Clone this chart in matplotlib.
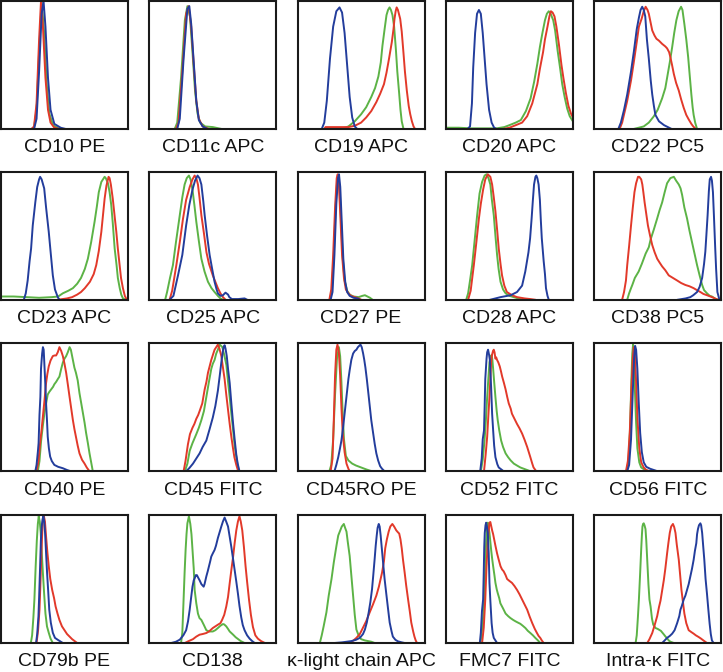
import matplotlib
matplotlib.use("Agg")
import matplotlib.pyplot as plt

plt.rcParams['font.family'] = ['Liberation Sans', 'DejaVu Sans']

# ---- panel titles ----
labels = ["CD10 PE", "CD11c APC", "CD19 APC", "CD20 APC", "CD22 PC5",
          "CD23 APC", "CD25 APC", "CD27 PE", "CD28 APC", "CD38 PC5",
          "CD40 PE", "CD45 FITC", "CD45RO PE", "CD52 FITC", "CD56 FITC",
          "CD79b PE", "CD138", "κ-light chain APC", "FMC7 FITC", "Intra-κ FITC"]

# ---- curves: (fluorescence position %, relative count %) ----
cd10_green = [(24,0),(26,1),(28,15),(30,60),(32,99),(34,75),(36,35),(38,12),(41,3),(46,0)]
cd10_red = [(24,0),(26,2),(28,20),(30,70),(31.5,100),(33,80),(35,40),(37,15),(39,5),(42,1),(46,0)]
cd10_blue = [(26,0),(28,8),(30,45),(32,90),(33.5,100),(35,80),(37,40),(39,15),(42,4),(47,1),(51,0)]

cd11c_green = [(20,0),(22,5),(25,40),(28,85),(30,96),(32,88),(34,60),(36,30),(38,12),(40,5),(44,2),(50,1.5),(57,0)]
cd11c_red = [(21,0),(23,5),(26,45),(29,90),(31,96),(33,80),(35,50),(37,22),(39,8),(42,2),(47,0)]
cd11c_blue = [(22,0),(24,8),(27,55),(30,94),(31.5,96),(33,82),(35,52),(37,22),(39,7),(42,2),(46,0)]

cd19_green = [(35,0),(37,1),(40,2),(45,6),(50,11.5),(54,17),(58,25),(61,32),(63.6,41),(65.5,52),(66.8,65),(68.5,78),(70,89),(71.2,93),(72.4,95),(73.5,93),(74.7,89),(76,80),(77.4,62),(78.5,45),(80,27.5),(81,15),(82,6),(83.4,0)]
cd19_red = [(21,0),(22,1.5),(30,1.5),(40,1.5),(45,2.5),(50,5),(54,9),(58,14),(62,21),(65,27.5),(68,35),(70,44),(72,55),(74.2,68),(75.5,78),(76.3,86),(77.2,92),(78,95),(79,93),(80.8,86),(82,76),(83.4,59),(84.5,45),(86,30),(87.5,18),(88.7,11.5),(90,6),(91.3,2),(92.5,0)]
cd19_blue = [(19,0),(21,5),(23,22),(25.5,55),(28,80),(30.5,92),(33,95),(35,91),(37,75),(39,50),(41,25),(43,9),(45,2),(47,0)]

cd20_green = [(0,1),(10,1),(20,0.5),(40,0.5),(46,1.5),(50,3),(55,5),(59,7),(63,14),(66.7,24),(69.5,37),(72,51),(74,64),(76,75),(78,85),(79.5,90),(81,92),(82.5,90),(84.5,85),(86,77),(88,61),(90,47),(91.6,35),(93.5,25),(95.5,16),(97.5,10),(100,6)]
cd20_red = [(45,0),(50,1),(55,3),(60,5),(64,10),(68,20),(72,35),(74,47),(76.5,60),(78,70),(80,80),(81.5,88),(82.7,92),(84,91),(85.5,88),(87,80),(89,66),(91,50),(92.5,40),(94.5,28),(96.5,18),(98.5,12),(100,9)]
cd20_blue = [(17,0),(19,2),(20.5,20),(21.5,48),(23,75),(24.5,90),(26,93),(27.5,90),(29,75),(30.5,55),(32,35),(34,15),(36,5),(38,1),(40,0)]

cd22_green = [(31,0),(35,1),(39,2),(43,5),(47,10),(50,15),(53.5,24),(56,32),(57.4,40),(59.5,52),(61.4,64),(63,75),(64.7,85),(66.5,92),(68.4,95.5),(69.5,93),(71,82),(72.5,70),(74,56),(75.2,42),(76.5,27),(77.5,17),(78.3,11),(79.5,5),(81,0)]
cd22_red = [(20,0),(22,5),(26,22),(29,38),(31.3,53),(33.5,68),(35.2,80),(37.3,86),(39,92),(40.5,95.5),(42,93),(43,90),(45.7,77),(47.5,73),(49,70.5),(51,69),(53.5,66.5),(56,64.5),(57.4,63),(59,60),(60,56),(61.3,50),(62.7,43),(64.5,36),(66.6,30),(68.5,23),(70.5,16.5),(72.5,11),(74.4,7.5),(76.5,4),(78,2),(80,0)]
cd22_blue = [(19,0),(21,5),(23.5,15),(26,27),(29,45),(31.3,61),(33.5,78),(35.2,87),(36.5,93),(37.8,95.5),(39,93),(40.2,88),(41.5,70),(43,55),(44.5,38),(45.7,27),(47,18),(48.2,11),(51,6),(55,3),(58,1.5),(61,0)]

cd23_green = [(0,2.5),(10,2.5),(20,2),(30,1.5),(40,2),(45,2.5),(48.7,5),(53,7),(56.6,9),(60,12.5),(63,17),(66,24),(68.4,32),(71,45),(73.7,61),(75.5,73),(77,84),(79,92),(81.6,96),(82.5,95),(84.2,91),(85.5,84),(86.8,74),(88,60),(89.5,40),(91,27),(92,17),(93.5,9),(94.7,4),(96,1),(98,0)]
cd23_red = [(45,0),(52,1),(56,2),(60,4),(63,6),(66,9),(70,14),(73,20),(75,27),(77,38),(79,53),(80.5,68),(81.6,79),(83,89),(84.7,96),(85.5,95),(86.5,90),(88,79),(89.5,65),(90.8,53),(92,40),(93.4,27),(94.5,17),(96,9),(97.5,3),(99,0)]
cd23_blue = [(18,0),(19.5,5),(21,15),(22.5,30),(23.7,40),(25,58),(27,76),(28.5,88),(30,94),(30.8,96),(32,94),(34,87),(35.5,72),(37.6,53),(39,38),(40.8,19),(42.5,8),(44.7,2),(46,0)]

cd25_green = [(12.5,0),(14,6),(16.3,17),(18.6,27),(21,45),(24,66),(26,80),(27.8,90),(29.5,95),(31.2,97),(32.5,94),(34,86),(35.5,74),(37,61),(39,46),(41,32),(43.5,22),(46.2,14),(49,9),(51.4,6),(54,3),(56,1),(58,0)]
cd25_red = [(16,0),(18,7),(21.3,27),(24,45),(26.5,63),(29,78),(31.8,88),(34,94),(35.7,97),(37,95),(38.3,90),(39.5,80),(41,66),(43,52),(45,37),(47,28),(50,19),(52,14),(54,9),(56,5),(58,2),(60,0)]
cd25_blue = [(16,0),(19,3),(22.6,19),(26,35),(29,58),(31.5,74),(34,86),(36,93),(38,97),(39.5,95),(41,90),(42.5,77),(43.6,66),(45.5,50),(47.5,35),(49.5,24),(51.4,14),(53,8),(54,5),(56,3),(58,3.5),(60,5.5),(62,4),(63,2),(65,0.5),(70,0.5),(75,1),(77,0)]

cd27_green = [(25.5,0),(27,7),(28.5,35),(30,74),(31.3,95),(32.1,97),(33.1,87),(34.3,60),(35.5,33),(37,15),(39,7),(41,4),(44,2.5),(48,2),(51,3),(53,3.5),(55,2.5),(57,1.5),(59,0)]
cd27_red = [(25,0),(26.5,8),(28,35),(29.5,72),(30.8,95),(31.6,98),(32.6,88),(33.8,62),(35,35),(36.5,17),(38,8),(40,5),(42,3),(45,2),(48,1),(50,0)]
cd27_blue = [(26,0),(27.5,6),(29,35),(30.5,75),(31.8,95),(32.6,98),(33.6,88),(34.8,60),(36,32),(37.5,14),(39,6),(41,3),(44,1.5),(47,1),(49,0)]

cd28_green = [(16,0),(17.5,5),(19,15),(20.7,27),(22.5,45),(24.6,66),(26.5,83),(28.5,92),(30.5,97),(32,98),(33.5,95),(35,90),(36.2,78),(37.7,66),(39,50),(40.3,35),(41.5,24),(43,14),(45,8),(47,5),(50,3),(53.4,2),(57,1),(60,0)]
cd28_red = [(17.5,0),(19.5,7),(22,27),(24,45),(26,63.5),(27.5,75),(29.3,86),(31,94),(33,98),(35,96),(36.4,90),(37.7,80),(39,69),(40.3,55),(41.6,40),(43,28),(44.2,19),(46,11),(48,6),(52,3.5),(56,2),(62,1),(66.5,0.5),(70,0)]
cd28_blue = [(35,0),(43,2),(51,3.5),(56,6),(60,11),(62.5,22),(65,37),(66.3,48),(67.5,63.5),(68.5,78),(69.4,90),(70.5,96),(71.2,97),(72,95),(73,90),(74,78),(74.7,63),(75.5,48),(77,30),(78,20),(78.8,9),(80,3),(81,0)]

cd38_green = [(26,0),(27.5,5),(29,9),(30,11.5),(32,17),(35,22),(37.5,28),(40.5,36),(43,41),(44.4,47),(47,55),(49.6,63.5),(51.5,70),(53.5,76),(55.5,84),(57.4,91),(60,95),(62.7,96),(64.5,93),(66.6,90),(68,87),(69.2,82),(71,72),(73.1,63.5),(75,54),(77,45),(79,36),(81,27),(83,19),(85,11.5),(86.5,7.5),(88.8,5),(91,3),(92.7,2.5),(95,1),(97,0)]
cd38_red = [(22,0),(23.5,6),(25,15),(26,27),(27.5,42),(29,58),(30.4,72),(31.7,84),(33,91),(34.5,96),(35.5,96),(37,94),(37.9,90),(38.7,84),(39.7,76),(41,67),(42.3,58),(44,50),(45.7,42.7),(47.6,37),(49.6,32),(51.5,29),(53.5,26),(56,23),(58.7,19),(62,17),(65.3,15),(68.5,13),(71.8,11.5),(75,10.5),(78.3,9),(80,8),(83.6,6),(86,4.5),(88.8,3.5),(91.5,2.5),(94,1.5),(96,0.5),(98,0)]
cd38_blue = [(66,0),(72,1),(75.7,2),(78,3.5),(81,6),(83,10),(85,17),(86.5,28),(87.5,37.5),(88.3,50),(89.3,66),(90.3,85),(91,94),(92,96),(92.7,93),(93.5,84),(94.3,65),(95.3,40),(96,24),(97,6),(98.6,0)]

cd40_green = [(29,0),(30.3,8),(31.6,24),(33,36),(34.2,45.5),(35.5,53),(36.8,60),(38,62),(39.5,64),(41,66),(42,68),(43.5,70),(44.7,72),(46,74),(47.4,80),(48.7,85),(50,88),(51.3,90),(52.6,93),(54,97),(55,95),(56.6,87),(57.8,81),(59,77),(60.4,71),(61.8,61),(63.2,53),(64.5,45.5),(65.8,38),(67,30),(68.4,22),(69.7,14),(71,7),(72.3,0)]
cd40_red = [(28,0),(29.5,8),(30.8,22),(32,33),(33,43),(34.2,55),(35.5,69),(36.5,76),(37.6,82),(39,86.5),(40.8,90),(42.1,90.5),(43.4,90.5),(44.7,93),(46,97),(47.4,94),(48.7,90),(50,84),(51.3,77),(52.6,68),(54,58),(55.3,49),(56.6,40),(57.8,33),(59,27),(60.4,20),(61.8,14),(63.8,9),(65.8,6),(67.5,3),(69.7,0)]
cd40_blue = [(27,0),(28,5),(29,15),(29.6,22),(30.3,44),(31,58),(31.5,80),(32,87),(32.4,92),(33,97),(33.6,95),(34,87),(34.8,70),(35.5,53),(36.2,40),(36.8,27),(37.7,18),(38.7,11.5),(40,8),(42,5),(45,3.5),(48.7,2.4),(52,1),(55,0)]

cd45_green = [(28,0),(30,6),(31.8,16),(34,22),(37,29),(39,34),(41,40),(43,47),(44.9,58),(46.8,69),(48.8,80),(50,84),(51.4,87),(52.7,92),(54,95),(55.4,99),(56.5,98),(57.5,97),(59,91),(60.7,83),(62,70),(63.3,58),(64.6,45),(66,32),(67.2,20),(68.5,11.5),(69.5,5),(70.6,0)]
cd45_red = [(27,0),(28.5,8),(30.4,21),(32,29),(34,34),(35.5,37),(37,41),(38.5,44),(39.6,47),(41.7,53),(43.6,64),(45,70),(46.2,77),(48.8,87),(51.4,95),(52.7,97),(54,99),(55.2,96),(56.7,90),(58,81),(59.3,72),(60.6,60),(62,48),(63.3,37),(64.6,27),(65.9,18),(67,11),(68.5,5),(70,0)]
cd45_blue = [(29,0),(31.5,2.5),(34.4,6),(37,10),(39.6,14),(42,19),(44.9,24),(47.5,33),(50,42),(52,51),(54,63),(55.5,75),(56.7,85),(57.8,93),(58.5,97),(59.3,98.5),(60,96),(61,90),(62,80),(63.3,69),(64.6,53),(66,37),(67.2,25),(68.5,13),(69.6,6),(71,0)]

cd45ro_green = [(25,0),(26.5,5),(28,25),(29.5,60),(31,88),(32.5,97),(33.5,90),(34.5,70),(35.5,45),(36.5,25),(38,12),(40,8.5),(43,6),(46,4.5),(50,3),(54,1.5),(57,0.5),(59,0)]
cd45ro_red = [(26,0),(27.5,10),(28.5,40),(29.5,75),(30.5,95),(31.4,99),(32.5,93),(33.5,75),(34.5,50),(35.5,30),(37,15),(38.5,6),(40,2),(41,0)]
cd45ro_blue = [(29,0),(30.5,5),(32,11),(33.2,17),(34.5,24),(35.8,34),(37,45),(38,54),(39,63),(40,72),(41,79),(42.3,87),(43.7,92),(45,94),(46.3,95),(47.5,97),(49.5,99),(50.5,97),(51.6,92),(52.5,87),(53.4,81),(54.5,72),(55.5,63),(56.7,52),(58,40),(59.3,31),(60.7,21.5),(62,14),(63.4,8.5),(65,4),(66.5,2),(68.5,0)]

cd52_green = [(27.5,0),(29,9),(30.4,24),(31.5,40),(32.5,58),(33.4,72),(34.3,85),(35.2,89),(36,91),(36.6,87),(37.2,80),(38,70),(39,58),(40,47),(40.8,40),(42,32),(43.5,24),(45,19),(47,14),(49,11),(51,8.5),(53.5,6),(56,4.5),(58.6,3),(61.3,2),(64,1),(66.5,0)]
cd52_red = [(30,0),(31.3,13),(32.5,27),(33.4,43),(34.3,58),(35,72),(35.6,85),(36.1,90),(36.6,92),(37.1,94),(37.7,95),(38.3,93),(39,88),(39.6,89),(40.3,87),(41.3,85),(42.4,82),(43.4,78),(44.3,74),(45.7,69),(47,64),(48.3,58),(49.5,53),(51,49),(52,45),(54,41),(56,37),(58,33.5),(60,29.5),(62,24.5),(64,19),(66.5,11),(68,6),(69,3),(71.2,0)]
cd52_blue = [(27,0),(28.2,10),(29,25),(30,32),(30.5,50),(31,72),(32,88),(32.5,93),(33.2,95),(34,91),(34.6,87),(35.6,66),(36.4,45),(37.2,32),(38,20),(39,11),(40.5,5.5),(41.6,3),(45.5,0)]

cd56_green = [(25.5,0),(27,8),(28.3,35),(29.3,72),(30,92),(30.6,99),(31.3,90),(32,65),(33,38),(34,18),(35.5,7),(37,3),(40,1),(43,0)]
cd56_red = [(25,0),(26.5,8),(28,30),(29.3,65),(30.5,90),(31.2,97),(32,92),(33,70),(34,42),(35.5,18),(37,7),(39,3),(41,1),(44,0)]
cd56_blue = [(26,0),(27.5,5),(29,25),(30.3,60),(31.4,88),(32.2,98),(33,95),(34,80),(35,55),(36.2,30),(37.5,15),(39,7),(41,3.5),(44,2),(47,1),(50,0)]

cd79b_green = [(23.5,0),(24.5,6),(25.5,20),(26.3,34),(27.3,60),(28.2,80),(29,93),(29.7,99),(30.5,95),(31.3,86),(32,72),(33,54.5),(34,38),(35,23),(36.2,13),(37.6,8),(39,3.5),(40.8,0)]
cd79b_red = [(28,0),(29.2,10),(30.3,26),(31,45),(31.8,70),(32.5,87),(33,97),(33.8,99),(34.6,95),(35.5,83),(36.5,71),(37.6,60),(38.8,50),(40.3,41.5),(41.8,35),(43,28.5),(44.5,23),(46,18),(48,13),(50,10),(52,7),(54,5),(56,3),(58,1.5),(60,0)]
cd79b_blue = [(27.6,0),(28.5,7),(29.5,21),(30,35),(30.8,60),(31.4,80),(32,91),(32.8,97),(33.4,99),(34,95),(34.7,86),(35.5,70),(36.3,54.5),(37.2,40),(38,26),(39.2,16),(40.8,8),(42.5,4),(44.7,2.5),(48.7,0)]

cd138_green = [(25,0),(26,8),(27,34),(27.8,55),(28.6,73),(29.3,85),(30,93.5),(31.2,99),(32.3,93),(33.2,85),(34,73),(35,58),(35.7,41.5),(37,31),(38.3,23),(39.5,19.5),(41,18),(43,14),(44.9,10),(47,9),(50,9),(52,10),(54,11.7),(56,13.5),(58,14.8),(59,14.5),(60.6,13),(62,11),(63.3,9),(66,6.5),(68,4.5),(70,3),(72,1.5),(75,0)]
cd138_red = [(28,0),(31,1.5),(34.4,3),(37,5),(39.6,6.5),(42,7),(44.9,7.8),(47,9),(50,11.7),(52,13),(54,14.3),(56,15.5),(57.3,18),(59,22),(60.6,28.5),(62,36),(63.3,46.7),(64.6,57),(66,67.5),(67.2,78),(68.5,88),(69.8,95),(71,99),(72,95),(73.2,88),(74.5,75),(75.8,60),(77,48),(78.5,34),(80,22),(81.6,12.5),(83.5,6),(85.5,3.4),(88,1.5),(91,0)]
cd138_blue = [(17.3,0),(21,1),(24,2.6),(26.8,6),(29,10),(30.5,17),(31.8,26),(33,36),(34,44),(35,49),(35.7,50.5),(36.6,53),(37.5,53),(38.5,51),(39.6,49),(41,46),(42.8,44),(43.5,46),(44.9,52),(46,56),(47,60),(48,64),(48.8,67.5),(50,70),(51.4,72.7),(52.5,76),(54,82),(55.5,87),(56.7,91),(58,95),(59.3,98),(60.5,95),(62,91),(63.3,83),(64.6,75),(65.9,66),(67.2,57),(68.5,48),(69.8,38.5),(71,29),(72.4,20),(73.6,14),(75,10),(77,6),(79,3.4),(81,1.5),(83,0)]

kappa_green = [(17.5,0),(19,6),(20.5,13),(22.7,24),(24.5,37),(26.7,50),(28.5,63),(30.6,76),(32,84),(33.2,87),(34.8,91),(36.4,93),(37.4,90),(38.5,87),(39.5,79),(41,68),(42.3,53),(43.7,37),(45,22),(46.3,10.5),(48,6),(50,3),(53,2),(55.5,1.5),(58,1),(60.7,0)]
kappa_red = [(41,0),(44,2),(46.3,4),(49,7),(51.5,12),(54,17),(56.8,24),(59.3,30),(62,37),(64,44),(66.5,55),(68,64),(69,74),(70.3,81),(71.7,87),(73,91),(74.6,93),(76,91),(77.7,88),(79,86.5),(80,85.5),(81,81),(82,74),(83,65),(84.3,55),(85.5,45),(87,34),(88.3,25),(89.5,16),(91,9),(92,5),(93,2),(94,0)]
kappa_blue = [(29,0),(35,0.5),(42.4,1.5),(46,2.5),(49,4),(51.5,7),(53,10.5),(54.5,16),(56,24),(57.3,32),(58.6,42),(59.5,52),(60.7,66),(61.5,76),(62.3,84),(63,90),(63.9,93),(64.6,91),(65.4,84),(66.3,74),(67.3,63),(68.5,50),(70,37),(71.3,26),(72.5,16),(74,9),(75,5),(77,2.5),(79,1.3),(82,0.5),(84.3,0)]

fmc7_green = [(27.2,0),(28.3,9),(29.8,26),(30.7,50),(31.7,80),(32.5,91),(33,94),(33.7,90),(34.3,86),(34.9,80),(35.6,73),(36.4,66),(37.2,60),(38.2,53),(39,47),(40,42),(40.8,39),(42,35),(42.9,31),(45,27),(47,23),(49,21),(50.8,19.5),(53,18),(54.7,17),(56.6,16),(58.6,15),(60.5,13.5),(62.6,11.7),(64.5,9.5),(66.5,7.8),(68.5,6),(70.4,4),(72.5,2),(74.3,0)]
fmc7_red = [(28.5,0),(29.8,12),(31,34),(32,60),(33,80),(34.3,94),(35,94.5),(36.4,88),(37.2,85),(38.2,80),(39,76),(40.3,70),(41.6,65),(43,60),(44.2,57.5),(45.5,56),(47,53),(48.2,50),(50,48.5),(52,47),(54,44.5),(56,41.5),(58,38),(60,34),(62,30),(64,26),(66,20.5),(68,15.5),(70,11),(71.7,7.8),(73,5.5),(74.3,4),(75.5,2),(77,0)]
fmc7_blue = [(26.7,0),(27.5,8),(28.4,25),(29.3,34),(29.8,55),(30.2,75),(30.6,86),(31.2,92),(31.7,94),(32.3,91),(33,86),(33.7,70),(34.3,47),(35,33),(36,15.5),(36.8,8),(37.7,4),(40.3,0)]

intra_green = [(32.6,0),(33.5,6),(34.4,20),(35.2,34),(36.2,55),(37,73),(37.6,85),(38,91),(38.5,93),(39,93.5),(39.6,92),(40.4,89),(41,80),(42,60),(42.7,46),(43.5,34),(44.4,28.5),(45.5,19),(46.5,14.3),(48.3,11.7),(50,11),(51,10.4),(52.5,9.5),(53.5,8.3),(55,6.5),(56,5.2),(57.5,3.5),(58.7,2),(60,1),(62.7,0)]
intra_red = [(41.8,0),(43.5,3),(45.7,7.8),(47.6,14),(49.6,21),(51,28),(52.2,33),(53.5,41),(54.8,49),(56,58),(57.4,70),(58.4,78),(59.5,86),(60.6,91),(62,93),(63,90.5),(64,86),(65,77),(66.6,65),(67.5,55),(68.7,41.5),(70,31),(71,23),(72.5,15.5),(74.4,10),(76.5,8.5),(78.3,7.3),(80,6),(82.2,4.7),(84,3.5),(86,2),(88.8,0)]
intra_blue = [(53.5,0),(55.5,2),(57.4,4),(59.5,5.5),(61.4,7.3),(63.3,10),(65.3,15.5),(67,21),(67.9,26),(69,29),(70.5,34),(71.8,37),(73.1,41.5),(74.4,46),(75.7,52),(77,58),(78.3,65),(79.3,72),(80.4,78),(81,85),(81.7,89),(82.5,92),(83.6,93.5),(84.2,92),(85,86),(85.8,76),(86.7,65),(87.7,50),(88.8,38.5),(89.8,27),(90.9,15),(91.8,7),(92.7,2),(94,0)]

panel_curves = [
    (cd10_green, cd10_red, cd10_blue), (cd11c_green, cd11c_red, cd11c_blue),
    (cd19_green, cd19_red, cd19_blue), (cd20_green, cd20_red, cd20_blue),
    (cd22_green, cd22_red, cd22_blue), (cd23_green, cd23_red, cd23_blue),
    (cd25_green, cd25_red, cd25_blue), (cd27_green, cd27_red, cd27_blue),
    (cd28_green, cd28_red, cd28_blue), (cd38_green, cd38_red, cd38_blue),
    (cd40_green, cd40_red, cd40_blue), (cd45_green, cd45_red, cd45_blue),
    (cd45ro_green, cd45ro_red, cd45ro_blue), (cd52_green, cd52_red, cd52_blue),
    (cd56_green, cd56_red, cd56_blue), (cd79b_green, cd79b_red, cd79b_blue),
    (cd138_green, cd138_red, cd138_blue), (kappa_green, kappa_red, kappa_blue),
    (fmc7_green, fmc7_red, fmc7_blue), (intra_green, intra_red, intra_blue),
]

colors = ["#5cb346", "#e2392a", "#233d9c"]

W, H = 723, 672
fig = plt.figure(figsize=(W / 100, H / 100), dpi=100)
fig.patch.set_facecolor("white")

col_left = [1 + 148.3 * i for i in range(5)]
row_top = [1, 171.7, 343.3, 515]
pw, ph = 127.0, 128.0

for idx, (label, curves) in enumerate(zip(labels, panel_curves)):
    r, c = divmod(idx, 5)
    x0 = col_left[c]
    y0 = row_top[r]
    ax = fig.add_axes([x0 / W, 1 - (y0 + ph) / H, pw / W, ph / H])
    for pts, col in zip(curves, colors):
        xs = [p[0] for p in pts]
        ys = [p[1] for p in pts]
        ax.plot(xs, ys, color=col, lw=1.4, solid_joinstyle="round", clip_on=True)
    ax.set_xlim(0, 100)
    ax.set_ylim(0, 100)
    ax.set_xticks([])
    ax.set_yticks([])
    for s in ax.spines.values():
        s.set_linewidth(1.5)
        s.set_color("#1a1a1a")
    ax.annotate(label, xy=(0.5, 0), xycoords="axes fraction",
                xytext=(0, -23.5 * 0.72), textcoords="offset points",
                ha="center", va="baseline", fontsize=14, color="#111111")

fig.savefig("out.png", dpi=100, facecolor="white")
